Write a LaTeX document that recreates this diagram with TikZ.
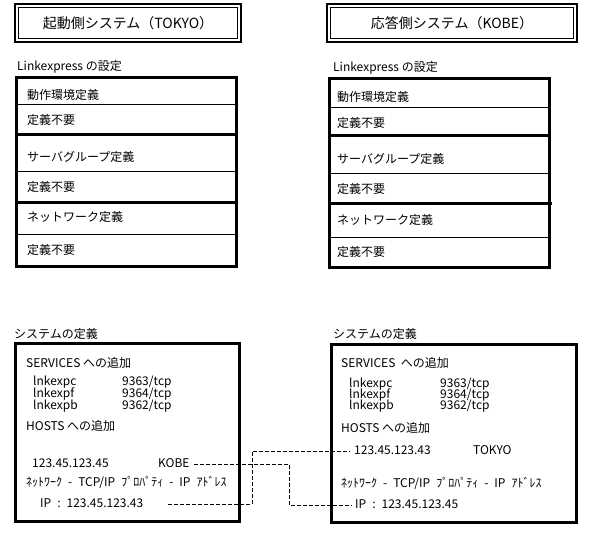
\documentclass[tikz,border=0pt]{standalone}
\usepackage{fontspec}
\setmainfont{Noto Sans CJK JP}
\usepackage{tikz}
\usetikzlibrary{positioning}

\begin{document}
\begin{tikzpicture}[x=1pt, y=-1pt, font=\fontsize{12}{14}\selectfont,
  frame/.style={line width=3pt},
  rule/.style={line width=1pt},
  txt/.style={anchor=west, inner sep=0pt, text height=9pt, text depth=2.5pt},
  wide/.style={txt, execute at begin node={\spaceskip=6pt\relax}},
  link/.style={line width=1pt, dash pattern=on 4pt off 2pt}]
  \useasboundingbox (0,0) rectangle (589,533);
  % Titles
  \draw[line width=2.5pt] (15,4) rectangle (241,42);
  \draw[rule] (18.5,7.5) rectangle (237.5,38.5);
  \node[font=\fontsize{14}{16}\selectfont] (titleL) at (128,23) {起動側システム（TOKYO）};
  \draw[line width=2.5pt] (327,4) rectangle (577,42);
  \draw[rule] (330.5,7.5) rectangle (573.5,38.5);
  \node[font=\fontsize{14}{16}\selectfont] (titleR) at (452,23) {応答側システム（KOBE）};

  % Linkexpress, left
  \node[txt] (lxL) at (17,67) {Linkexpress の設定};
  \draw[frame] (16,77) rectangle (236,266);
  \draw[frame] (16,134) -- (236,134);
  \draw[frame] (16,202) -- (238,202);
  \draw[rule] (16,104) -- (236,104);
  \draw[rule] (16,171) -- (236,171);
  \draw[rule] (16,234) -- (236,234);
  \node[txt] (envL) at (27,96.5) {動作環境定義};
  \node[txt] (envNoL) at (27,121) {定義不要};
  \node[txt] (grpL) at (27,158) {サーバグループ定義};
  \node[txt] (grpNoL) at (27,188.5) {定義不要};
  \node[txt] (netL) at (27,218.5) {ネットワーク定義};
  \node[txt] (netNoL) at (27,251.5) {定義不要};

  % Linkexpress, right
  \node[txt] (lxR) at (333,68) {Linkexpress の設定};
  \draw[frame] (329,78) rectangle (549,267);
  \draw[frame] (329,135) -- (549,135);
  \draw[frame] (329,203) -- (552,203);
  \draw[rule] (329,107) -- (549,107);
  \draw[rule] (329,173) -- (549,173);
  \draw[rule] (329,237) -- (549,237);
  \node[txt] (envR) at (337,98.5) {動作環境定義};
  \node[txt] (envNoR) at (337,124) {定義不要};
  \node[txt] (grpR) at (337,160.5) {サーバグループ定義};
  \node[txt] (grpNoR) at (337,190.5) {定義不要};
  \node[txt] (netR) at (337,221.5) {ネットワーク定義};
  \node[txt] (netNoR) at (337,253.5) {定義不要};

  % System, left
  \node[txt] (sysL) at (14,335) {システムの定義};
  \draw[frame] (15,343) rectangle (239,521);
  \node[txt] (svcL) at (26,364) {SERVICES への追加};
  \node[txt] (pcL) at (33,382) {lnkexpc};
  \node[txt] (pfL) at (33,394) {lnkexpf};
  \node[txt] (pbL) at (33,406) {lnkexpb};
  \node[txt] (pcPortL) at (122,382) {9363/tcp};
  \node[txt] (pfPortL) at (122,394) {9364/tcp};
  \node[txt] (pbPortL) at (122,406) {9362/tcp};
  \node[txt] (hostsL) at (26,427) {HOSTS への追加};
  \node[txt] (hostL) at (32,464) {123.45.123.45};
  \node[txt] (kobeL) at (158,464) {KOBE};
  \node[wide] (tcpL) at (26,483) {ﾈｯﾄﾜｰｸ - TCP/IP ﾌﾟﾛﾊﾟﾃｨ - IP ｱﾄﾞﾚｽ};
  \node[wide] (ipL) at (40,504) {IP : 123.45.123.43};

  % System, right
  \node[txt] (sysR) at (333,335) {システムの定義};
  \draw[frame] (331,344) rectangle (576,522);
  \node[txt] (svcR) at (341,364) {SERVICES~~への追加};
  \node[txt] (pcR) at (349,384) {lnkexpc};
  \node[txt] (pfR) at (349,395) {lnkexpf};
  \node[txt] (pbR) at (349,406) {lnkexpb};
  \node[txt] (pcPortR) at (440,384) {9363/tcp};
  \node[txt] (pfPortR) at (440,395) {9364/tcp};
  \node[txt] (pbPortR) at (440,406) {9362/tcp};
  \node[txt] (hostsR) at (341,429) {HOSTS への追加};
  \node[txt] (hostR) at (354,451) {123.45.123.43};
  \node[txt] (tokyoR) at (473,451) {TOKYO};
  \node[wide] (tcpR) at (341,484) {ﾈｯﾄﾜｰｸ - TCP/IP ﾌﾟﾛﾊﾟﾃｨ - IP ｱﾄﾞﾚｽ};
  \node[wide] (ipR) at (355,505) {IP : 123.45.123.45};

  % Links
  \coordinate (bendA) at (289,0);
  \coordinate (bendB) at (252,0);
  \draw[link, shorten <=4pt, shorten >=4pt] (kobeL.east) -| (bendA |- ipR.west) -- (ipR.west);
  \draw[link, shorten <=25pt, shorten >=4pt] (ipL.east) -| (bendB |- hostR.west) -- (hostR.west);
\end{tikzpicture}
\end{document}
